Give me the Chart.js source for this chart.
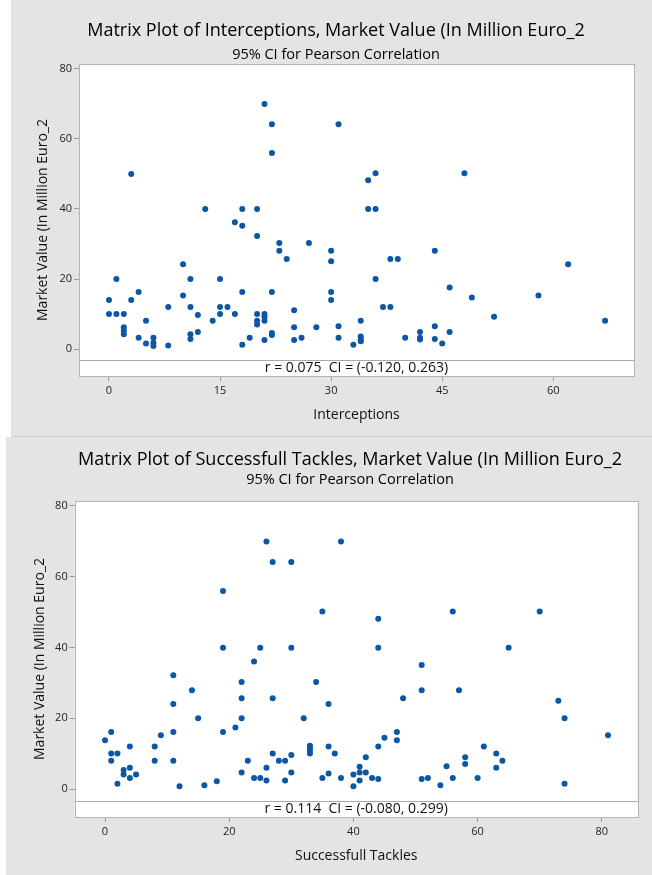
<!DOCTYPE html>
<html>
<head>
<meta charset="utf-8">
<script src="https://cdn.jsdelivr.net/npm/chart.js@4.4.1/dist/chart.umd.min.js"></script>
<style>
  html, body { margin: 0; padding: 0; background: #fff; }
  .panel { position: absolute; background: #e4e4e4; box-sizing: border-box; border-bottom: 1px solid #d0d0d0; }
  #p1 { left: 11px; top: 0; width: 641px; height: 437px; }
  #p2 { left: 6px; top: 437px; width: 646px; height: 438px; border-bottom: none; }
  canvas { display: block; }
</style>
</head>
<body>
<div class="panel" id="p1"><canvas id="chartInt" width="641" height="436"></canvas></div>
<div class="panel" id="p2"><canvas id="chartTck" width="646" height="438"></canvas></div>
<script>
// datos (x, valor de mercado)
const interceptions = [0,0,1,1,2,2,2,2,3,3,4,4,5,5,6,6,6,8,8,10,10,11,11,11,11,12,12,13,14,15,15,15,16,17,17,18,18,18,18,19,20,20,20,20,20,21,21,21,21,21,22,22,22,22,22,23,23,24,25,25,25,26,27,28,30,30,30,30,31,31,31,33,34,34,34,34,35,36,35,36,36,37,38,38,39,40,42,42,42,44,44,44,45,46,46,48,49,52,58,62,67];
const valueInt = [14,10,20,10,10,6.2,5.3,4.2,50,14,16.3,3.2,8.1,1.6,3.2,1.8,0.9,12,1,24.2,15.3,20,12,4.2,2.9,9.7,4.9,40,8.1,20,12,10,12,36.2,10,40,35.2,16.3,1.2,3.2,40,32.3,10,8.1,7,70,10,9.2,8.1,2.6,64.2,56,16.3,4.6,4,30.3,28.1,25.7,11.1,6.2,2.6,3.2,30.3,6.2,28.1,25.1,16.3,14,64.2,6.5,3.2,1.2,8.1,3.6,2.9,2.2,48.2,50.2,40,40,20,12,12,25.7,25.7,3.2,4.9,3.2,2.7,28.1,6.5,2.9,1.6,17.6,4.9,50.2,14.7,9.2,15.3,24.2,8.1];

const tackles = [0,1,1,1,2,2,3,3,4,4,4,5,8,8,9,11,11,11,11,12,14,15,16,18,19,19,19,21,22,22,22,22,23,24,24,25,25,26,26,26,27,27,27,28,29,29,30,30,30,30,32,33,33,33,33,34,35,35,36,36,36,37,38,38,40,40,41,41,41,42,42,43,44,44,44,44,45,47,47,48,51,51,51,52,54,55,56,56,57,58,58,60,61,63,63,64,65,70,73,74,74,81];
const valueTck = [13.8,16.1,10,8,10,1.5,5.4,4.1,12,6,3.1,4.1,12,8,15.2,32.1,24,16.1,8,0.8,27.9,20,1.1,2.2,55.9,39.9,16.1,17.4,30.2,25.6,20,4.7,8,36,3.1,39.9,3.1,69.9,6,2.4,64.1,25.6,10,8,8,2.4,64.1,39.9,9.6,4.7,20,12.2,11.5,10.8,10,30.2,50.1,3.1,24,12,4.4,10,69.9,3.1,4.1,0.8,6.3,4.7,2.4,9,4.7,3.1,48.1,39.9,12,2.8,14.5,16.1,13.8,25.6,35,27.9,2.8,3.1,1.1,6.4,50.1,3.1,27.9,9,7.1,3.1,12,10,6,8,39.9,50.1,24.9,20,1.5,15.2];

const xTicksInt = [0, 15, 30, 45, 60];
const xTicksTck = [0, 20, 40, 60, 80];
const yTicks = [0, 20, 40, 60, 80];

const FONT = "'Open Sans', 'Noto Sans', sans-serif";
const DOT = '#0b57a4';

// marco blanco, caja de correlacion y titulos
const minitabFrame = {
    id: 'minitabFrame',
    beforeDraw(chart) {
        const { ctx, chartArea: a } = chart;
        ctx.save();
        ctx.fillStyle = '#fff';
        ctx.fillRect(a.left, a.top, a.right - a.left, a.bottom - a.top);
        ctx.restore();
    },
    afterDraw(chart, args, opts) {
        const { ctx, chartArea: a } = chart;
        ctx.save();
        // caja r / CI
        const boxTop = a.bottom - opts.boxHeight;
        ctx.fillStyle = '#fff';
        ctx.fillRect(a.left, boxTop, a.right - a.left, opts.boxHeight);
        ctx.strokeStyle = '#a9a9a9';
        ctx.lineWidth = 1;
        ctx.beginPath();
        ctx.moveTo(a.left, Math.round(boxTop) + 0.5);
        ctx.lineTo(a.right, Math.round(boxTop) + 0.5);
        ctx.stroke();
        ctx.strokeStyle = '#b4b4b4';
        ctx.strokeRect(Math.round(a.left) + 0.5, Math.round(a.top) + 0.5,
            Math.round(a.right - a.left), Math.round(a.bottom - a.top));

        ctx.fillStyle = '#111';
        ctx.textAlign = 'center';
        ctx.textBaseline = 'middle';
        ctx.font = `14px ${FONT}`;
        ctx.fillText(opts.corr, (a.left + a.right) / 2, boxTop + opts.boxHeight / 2);

        ctx.fillStyle = '#000';
        ctx.font = `18px ${FONT}`;
        ctx.fillText(opts.title, opts.titleX, opts.titleY);
        ctx.font = `14.5px ${FONT}`;
        ctx.fillText(opts.subtitle, opts.titleX, opts.subtitleY);
        ctx.restore();
    }
};

function buildScatter(canvasId, cfg) {
    const points = cfg.xs.map((x, i) => ({ x: x, y: cfg.ys[i] }));
    return new Chart(document.getElementById(canvasId), {
        type: 'scatter',
        data: {
            datasets: [{
                data: points,
                backgroundColor: DOT,
                borderWidth: 0,
                pointRadius: 3,
                pointHoverRadius: 3
            }]
        },
        options: {
            responsive: false,
            animation: false,
            events: [],
            layout: { padding: { top: cfg.padTop, right: cfg.padRight, left: 0, bottom: 0 } },
            plugins: {
                legend: { display: false },
                tooltip: { enabled: false },
                minitabFrame: {
                    boxHeight: cfg.boxHeight,
                    corr: cfg.corr,
                    title: cfg.title,
                    subtitle: '95% CI for Pearson Correlation',
                    titleX: cfg.titleX,
                    titleY: cfg.titleY,
                    subtitleY: cfg.subtitleY
                }
            },
            scales: {
                x: {
                    type: 'linear',
                    min: cfg.xMin,
                    max: cfg.xMax,
                    afterBuildTicks: s => { s.ticks = cfg.xTicks.map(v => ({ value: v })); },
                    afterFit: s => { s.height = cfg.xAxisHeight; },
                    grid: { drawOnChartArea: false, drawTicks: true, tickLength: 5, color: '#9c9c9c' },
                    border: { display: false },
                    ticks: { padding: 3, color: '#222', autoSkip: false, maxRotation: 0, font: { family: FONT, size: 11 } },
                    title: {
                        display: true, text: cfg.xTitle, color: '#111',
                        font: { family: FONT, size: 14 }, padding: { top: 0, bottom: cfg.xTitlePad }
                    }
                },
                y: {
                    type: 'linear',
                    min: cfg.yMin,
                    max: cfg.yMax,
                    afterBuildTicks: s => { s.ticks = yTicks.map(v => ({ value: v })); },
                    afterFit: s => { s.width = cfg.yAxisWidth; },
                    grid: { drawOnChartArea: false, drawTicks: true, tickLength: 5, color: '#9c9c9c' },
                    border: { display: false },
                    ticks: { padding: 2, color: '#222', autoSkip: false, font: { family: FONT, size: 11 } },
                    title: {
                        display: true, text: 'Market Value (In Million Euro_2', color: '#111',
                        font: { family: FONT, size: 14 }, padding: { top: cfg.yTitlePad, bottom: 0 }
                    }
                }
            }
        },
        plugins: [minitabFrame]
    });
}

buildScatter('chartInt', {
    xs: interceptions, ys: valueInt, xTicks: xTicksInt,
    xMin: -4.05, xMax: 70.9, yMin: -7.7, yMax: 81.4,
    padTop: 64, padRight: 18, yAxisWidth: 68, xAxisHeight: 60,
    xTitle: 'Interceptions', xTitlePad: 12.6, yTitlePad: 24,
    boxHeight: 16,
    corr: 'r = 0.075  CI = (-0.120, 0.263)',
    title: 'Matrix Plot of Interceptions, Market Value (In Million Euro_2',
    titleX: 325, titleY: 31, subtitleY: 55
});

buildScatter('chartTck', {
    xs: tackles, ys: valueTck, xTicks: xTicksTck,
    xMin: -4.88, xMax: 85.78, yMin: -7.9, yMax: 81.33,
    padTop: 64, padRight: 14.3, yAxisWidth: 68.7, xAxisHeight: 58,
    xTitle: 'Successfull Tackles', xTitlePad: 10.6, yTitlePad: 25.6,
    boxHeight: 16,
    corr: 'r = 0.114  CI = (-0.080, 0.299)',
    title: 'Matrix Plot of Successfull Tackles, Market Value (In Million Euro_2',
    titleX: 344, titleY: 23, subtitleY: 43
});
</script>
</body>
</html>
